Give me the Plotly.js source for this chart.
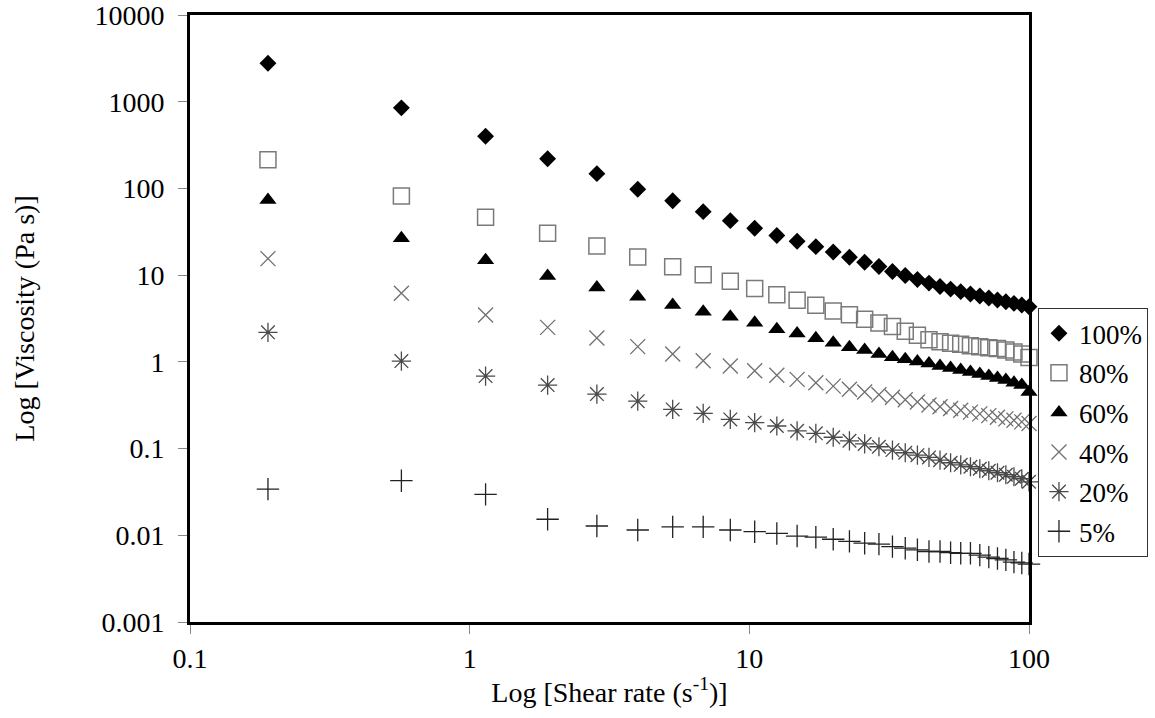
<!DOCTYPE html>
<html>
<head>
<meta charset="utf-8">
<script src="https://cdn.plot.ly/plotly-3.0.1.min.js"></script>
<style>
  html, body { margin: 0; padding: 0; background: #fff; }
  #chart { width: 1155px; height: 718px; }
</style>
</head>
<body>
<div id="chart"></div>
<script>
// Shear rate sweep (s^-1)
const shearRate = [0.19, 0.57, 1.14, 1.90, 2.85, 3.99, 5.32, 6.84, 8.55, 10.45, 12.54, 14.82, 17.29, 19.95, 22.80, 25.84,
                   29.07, 32.49, 36.10, 39.90, 43.89, 48.07, 52.44, 57.00, 61.75, 66.69, 71.82, 77.14, 82.65, 88.35, 94.24, 100.0];

// Viscosity (Pa s) for each concentration
const visc100 = [2780, 850, 400, 220, 148, 98, 72, 54, 42.5, 34.8, 28.6, 24.6, 21.3, 18.5, 16.1, 14.1,
                 12.6, 11.0, 9.9, 8.9, 8.1, 7.4, 6.9, 6.45, 6.05, 5.75, 5.45, 5.17, 4.94, 4.72, 4.52, 4.32];
const visc80  = [214, 82, 46.4, 30.4, 21.7, 16.2, 12.5, 10.1, 8.5, 7.0, 5.95, 5.15, 4.5, 3.85, 3.5, 3.1,
                 2.8, 2.55, 2.25, 2.03, 1.8, 1.7, 1.64, 1.6, 1.53, 1.49, 1.45, 1.43, 1.37, 1.30, 1.23, 1.12];
const visc60  = [73.5, 26.6, 14.9, 9.8, 7.2, 5.65, 4.52, 3.78, 3.31, 2.83, 2.37, 2.13, 1.87, 1.66, 1.47, 1.37,
                 1.23, 1.13, 1.07, 1.01, 0.96, 0.895, 0.848, 0.804, 0.762, 0.723, 0.686, 0.65, 0.617, 0.574, 0.54, 0.45];
const visc40  = [15.5, 6.17, 3.47, 2.5, 1.88, 1.5, 1.23, 1.03, 0.895, 0.79, 0.70, 0.628, 0.574, 0.525, 0.484, 0.449,
                 0.417, 0.39, 0.366, 0.344, 0.318, 0.303, 0.29, 0.277, 0.263, 0.251, 0.24, 0.23, 0.22, 0.212, 0.203, 0.195];
const visc20  = [2.19, 1.02, 0.686, 0.54, 0.425, 0.352, 0.283, 0.255, 0.217, 0.199, 0.182, 0.16, 0.15, 0.135, 0.123, 0.113,
                 0.105, 0.096, 0.0895, 0.084, 0.079, 0.0736, 0.0686, 0.065, 0.0617, 0.0585, 0.0555, 0.0526, 0.0499, 0.0473, 0.0449, 0.0414];
const visc5   = [0.0341, 0.0426, 0.0296, 0.0153, 0.0128, 0.0115, 0.0125, 0.0125, 0.0115, 0.011, 0.0105, 0.0098, 0.0095, 0.009, 0.0085, 0.0081,
                 0.0079, 0.0074, 0.0071, 0.0068, 0.0065, 0.0065, 0.0063, 0.0062, 0.0062, 0.0059, 0.0056, 0.0054, 0.0052, 0.0049, 0.0048, 0.00466];

const seriesNames = ['100%', '80%', '60%', '40%', '20%', '5%'];

const xTickVals = [0.1, 1, 10, 100];
const xTickText = ['0.1', '1', '10', '100'];
const yTickVals = [0.001, 0.01, 0.1, 1, 10, 100, 1000, 10000];
const yTickText = ['0.001', '0.01', '0.1', '1', '10', '100', '1000', '10000'];

const serif = '"Liberation Serif", "Times New Roman", serif';

// one legend group per series so the legend rows get a small extra gap
function series(name, y, marker) {
  return {
    type: 'scatter', mode: 'markers', name: name, legendgroup: name,
    x: shearRate, y: y, marker: marker, cliponaxis: false
  };
}

const traces = [
  series(seriesNames[0], visc100, { symbol: 'diamond', size: 13, color: '#000', line: { width: 0 } }),
  series(seriesNames[1], visc80,  { symbol: 'square-open', size: 16, color: '#7a7a7a', line: { width: 1.5 } }),
  series(seriesNames[2], visc60,  { symbol: 'triangle-up', size: 15, color: '#000', line: { width: 0 } }),
  series(seriesNames[3], visc40,  { symbol: 'x-thin-open', size: 15, color: '#707070', line: { width: 1.3 } }),
  series(seriesNames[4], visc20,  { symbol: 'asterisk-open', size: 16, color: '#4a4a4a', line: { width: 1.3 } }),
  series(seriesNames[5], visc5,   { symbol: 'cross-thin-open', size: 16, color: '#222', line: { width: 1.3 } })
];

const layout = {
  width: 1155, height: 718,
  margin: { l: 190, r: 126, t: 15, b: 96, autoexpand: false },
  paper_bgcolor: '#fff', plot_bgcolor: '#fff',
  font: { family: serif, color: '#000' },
  showlegend: true,
  legend: {
    x: 1.0107, y: 0.517, xanchor: 'left', yanchor: 'top',
    bgcolor: '#fff', bordercolor: '#333', borderwidth: 1,
    font: { family: serif, size: 27, color: '#000' },
    itemwidth: 30, tracegroupgap: 1.5
  },
  xaxis: {
    type: 'log', range: [-1, 2], automargin: false,
    tickvals: xTickVals, ticktext: xTickText,
    ticks: 'outside', ticklen: 9, tickwidth: 1, tickcolor: '#888',
    ticklabeloverflow: 'allow',
    showline: true, linewidth: 3, linecolor: '#000', mirror: true,
    showgrid: false, zeroline: false,
    tickfont: { family: serif, size: 28, color: '#000' },
    title: { text: 'Log [Shear rate (s<sup>-1</sup>)]', font: { family: serif, size: 28, color: '#000' }, standoff: 10 }
  },
  yaxis: {
    type: 'log', range: [-3, 4], automargin: false,
    tickvals: yTickVals, ticktext: yTickText,
    ticks: 'outside', ticklen: 9, tickwidth: 1, tickcolor: '#888',
    ticklabelstandoff: 8, ticklabeloverflow: 'allow',
    showline: true, linewidth: 3, linecolor: '#000', mirror: true,
    showgrid: false, zeroline: false,
    tickfont: { family: serif, size: 28, color: '#000' },
    title: { text: 'Log [Viscosity (Pa s)]', font: { family: serif, size: 28, color: '#000' }, standoff: 52 }
  }
};

Plotly.newPlot('chart', traces, layout, { displayModeBar: false, staticPlot: true });
</script>
</body>
</html>
